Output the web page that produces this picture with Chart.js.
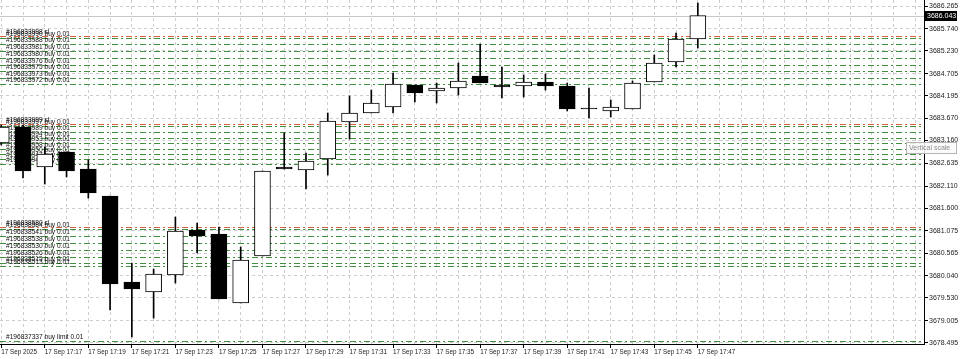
<!DOCTYPE html>
<html>
<head>
<meta charset="utf-8">
<script src="https://cdn.jsdelivr.net/npm/chart.js@4.4.1/dist/chart.umd.min.js"></script>
<style>
html, body { margin: 0; padding: 0; background: #fff; }
#wrap { width: 960px; height: 359px; position: relative; }
</style>
</head>
<body>
<div id="wrap"><canvas id="chart" width="960" height="359"></canvas></div>
<script>
// M1 candles, 17 Sep 2025
var times = ['17:15','17:16','17:17','17:18','17:19','17:20','17:21','17:22','17:23','17:24','17:25',
  '17:26','17:27','17:28','17:29','17:30','17:31','17:32','17:33','17:34','17:35','17:36',
  '17:37','17:38','17:39','17:40','17:41','17:42','17:43','17:44','17:45','17:46','17:47'];
var opens = [3683.103,3683.473,3682.549,3682.896,3682.503,3681.880,3679.895,3679.665,3680.057,3681.095,3681.003,
  3679.411,3680.495,3682.549,3682.480,3682.734,3683.588,3683.796,3683.934,3684.442,3684.303,3684.373,
  3684.650,3684.442,3684.419,3684.511,3684.419,3683.911,3683.842,3683.888,3684.511,3684.973,3685.503];
var highs = [3683.519,3683.519,3683.011,3682.896,3682.711,3681.880,3680.334,3680.195,3681.395,3681.257,3681.165,
  3680.703,3682.457,3683.334,3682.872,3683.796,3684.188,3684.326,3684.719,3684.442,3684.488,3684.950,
  3685.388,3684.857,3684.673,3684.696,3684.488,3684.373,3684.096,3684.534,3685.134,3685.642,3686.334];
var lows = [3683.057,3682.296,3682.157,3682.319,3681.834,3679.249,3678.626,3679.064,3679.872,3680.565,3679.503,
  3679.411,3680.495,3682.503,3682.042,3682.365,3683.196,3683.796,3683.796,3684.049,3684.026,3684.211,
  3684.488,3684.142,3684.165,3684.326,3683.842,3683.680,3683.703,3683.888,3684.511,3684.857,3685.296];
var closes = [3683.473,3682.457,3682.849,3682.457,3681.949,3679.849,3679.734,3680.080,3681.072,3680.957,3679.503,
  3680.403,3682.457,3682.503,3682.688,3683.611,3683.796,3684.026,3684.465,3684.257,3684.373,3684.534,
  3684.488,3684.396,3684.511,3684.419,3683.888,3683.888,3683.934,3684.488,3684.950,3685.503,3686.043];

var priceTicks = [3686.265,3685.740,3685.230,3684.705,3684.195,3683.670,3683.160,3682.635,
  3682.110,3681.600,3681.075,3680.565,3680.040,3679.530,3679.005,3678.495];
var bidPrice = 3686.043;

// order lines
var slLevels = [3685.573, 3683.542, 3681.165];
var slNames = ['#196833998 sl', '#196833999 sl', '#196838580 sl'];
var buyLevels = [3685.527,3685.388,3685.226,3685.065,3684.915,3684.765,3684.615,3684.465,
  3683.496,3683.357,3683.219,3683.103,3682.965,3682.849,3682.734,3682.619,
  3681.118,3680.957,3680.795,3680.634,3680.472,3680.334,3680.265];
var buyNames = ['#196833990','#196833988','#196833981','#196833980','#196833976','#196833975','#196833973','#196833972',
  '#196833997','#196833989','#196833994','#196833953','#196833958','#196833950','#196833947','#196833944',
  '#196838584','#196838541','#196838538','#196838530','#196838526','#196838515','#196838513'];
var limitLevels = [3678.534];
var limitNames = ['#196837337 buy limit 0.01'];

var FONT = '"Liberation Sans", Arial, sans-serif';

var wickData = times.map(function (t, i) { return { x: i, y: [lows[i], highs[i]] }; });
var bodyData = times.map(function (t, i) { return { x: i, y: [opens[i], closes[i]] }; });
var bodyColors = times.map(function (t, i) { return closes[i] > opens[i] ? '#ffffff' : '#000000'; });

function hline(ctx, area, y, color, dash) {
    var py = Math.round(y) + 0.5;
    ctx.save();
    ctx.strokeStyle = color;
    ctx.lineWidth = 1;
    ctx.setLineDash(dash);
    ctx.beginPath();
    ctx.moveTo(area.left, py);
    ctx.lineTo(area.right, py);
    ctx.stroke();
    ctx.restore();
}

function label(ctx, y, text) {
    ctx.save();
    ctx.font = '6.6px ' + FONT;
    ctx.fillStyle = '#111';
    ctx.textBaseline = 'bottom';
    ctx.textAlign = 'left';
    ctx.fillText(text, 6, Math.round(y) - 0.5);
    ctx.restore();
}

var orderLines = {
    id: 'orderLines',
    beforeDatasetsDraw: function (chart) {
        var ctx = chart.ctx, area = chart.chartArea, ys = chart.scales.y;
        var dashDot = [6, 3, 2, 3];
        // bid line
        hline(ctx, area, ys.getPixelForValue(bidPrice), '#c8c8c8', []);
        buyLevels.forEach(function (v, i) {
            hline(ctx, area, ys.getPixelForValue(v), '#3f8f3f', dashDot);
        });
        limitLevels.forEach(function (v) {
            hline(ctx, area, ys.getPixelForValue(v), '#3f8f3f', dashDot);
        });
        slLevels.forEach(function (v) {
            hline(ctx, area, ys.getPixelForValue(v), '#d8603c', dashDot);
        });
        buyLevels.forEach(function (v, i) {
            label(ctx, ys.getPixelForValue(v), buyNames[i] + ' buy 0.01');
        });
        slLevels.forEach(function (v, i) {
            label(ctx, ys.getPixelForValue(v), slNames[i]);
        });
        limitLevels.forEach(function (v, i) {
            label(ctx, ys.getPixelForValue(v), limitNames[i]);
        });
    },
    afterDraw: function (chart) {
        var ctx = chart.ctx, ys = chart.scales.y;
        var y = Math.round(ys.getPixelForValue(bidPrice));
        ctx.save();
        // current price tag
        ctx.fillStyle = '#000';
        ctx.fillRect(925, y - 5, 32, 10);
        ctx.fillStyle = '#fff';
        ctx.font = '7px ' + FONT;
        ctx.textBaseline = 'middle';
        ctx.textAlign = 'left';
        ctx.fillText(bidPrice.toFixed(3), 927, y + 0.5);
        // hover hint
        ctx.fillStyle = 'rgba(250,250,250,0.85)';
        ctx.fillRect(906, 142, 50, 11);
        ctx.strokeStyle = '#b4b4b4';
        ctx.strokeRect(906.5, 142.5, 50, 11);
        ctx.fillStyle = '#8c8c8c';
        ctx.fillText('Vertical scale', 909, 148.5);
        ctx.restore();
    }
};

new Chart(document.getElementById('chart'), {
    type: 'bar',
    data: {
        datasets: [
            {
                label: 'wick',
                data: wickData,
                backgroundColor: '#000',
                borderWidth: 0,
                barThickness: 1,
                grouped: false,
                order: 2
            },
            {
                label: 'body',
                data: bodyData,
                backgroundColor: bodyColors,
                borderColor: '#000',
                borderWidth: 1,
                borderSkipped: false,
                barThickness: 16,
                grouped: false,
                order: 1
            }
        ]
    },
    options: {
        responsive: false,
        animation: false,
        devicePixelRatio: 1,
        layout: { padding: 0 },
        plugins: { legend: { display: false }, tooltip: { enabled: false } },
        scales: {
            x: {
                type: 'linear',
                offset: false,
                min: -0.057,
                max: 42.39,
                afterBuildTicks: function (scale) {
                    var t = [];
                    for (var i = 0; i <= 42; i++) t.push({ value: i });
                    scale.ticks = t;
                },
                afterFit: function (scale) {
                    scale.height = 15;
                    scale.paddingLeft = 0;
                    scale.paddingRight = 0;
                },
                ticks: {
                    autoSkip: false,
                    maxRotation: 0,
                    minRotation: 0,
                    align: 'start',
                    padding: 0,
                    color: '#222',
                    font: { family: FONT, size: 6.3 },
                    callback: function (value) {
                        var i = Math.round(value);
                        if (i % 2 !== 0 || i >= times.length) return '';
                        return i === 0 ? '17 Sep 2025' : '17 Sep ' + times[i];
                    }
                },
                grid: {
                    offset: false,
                    color: '#cdcdcd',
                    tickLength: 4,
                    tickColor: function (c) {
                        var i = c.tick ? Math.round(c.tick.value) : 1;
                        return (i % 2 === 0 && i < times.length) ? '#000' : 'rgba(0,0,0,0)';
                    }
                },
                border: { display: true, color: '#000', dash: [3, 3] }
            },
            y: {
                position: 'right',
                min: 3678.465,
                max: 3686.4035,
                afterBuildTicks: function (scale) {
                    scale.ticks = priceTicks.map(function (v) { return { value: v }; });
                },
                afterFit: function (scale) {
                    scale.width = 36;
                    scale.paddingTop = 0;
                    scale.paddingBottom = 0;
                },
                ticks: {
                    padding: 1,
                    color: '#222',
                    font: { family: FONT, size: 7 },
                    callback: function (value) { return Number(value).toFixed(3); }
                },
                grid: {
                    color: '#cdcdcd',
                    tickLength: 4,
                    tickColor: '#000'
                },
                border: { display: true, color: '#000', dash: [3, 3] }
            }
        }
    },
    plugins: [orderLines]
});
</script>
</body>
</html>
